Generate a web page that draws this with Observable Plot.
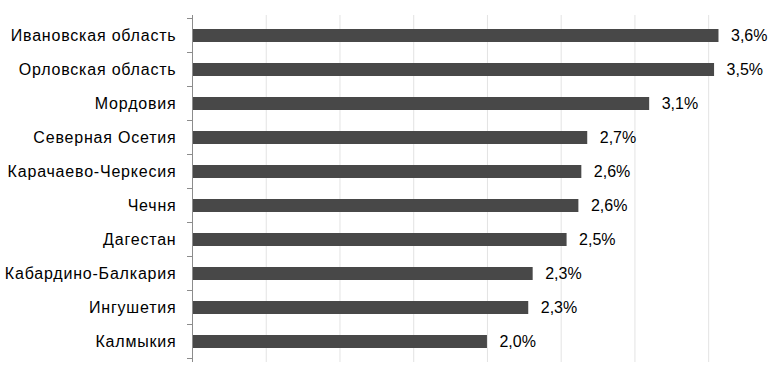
<!DOCTYPE html>
<html><head><meta charset="utf-8">
<script src="https://cdn.jsdelivr.net/npm/d3@7"></script>
<script src="https://cdn.jsdelivr.net/npm/@observablehq/plot@0.6"></script>
<style>body{margin:0;background:#fff} svg{display:block} .ylab text{letter-spacing:0.8px}</style>
</head><body><div id="chart"></div>
<script>
const regions = ["Ивановская область","Орловская область","Мордовия","Северная Осетия","Карачаево-Черкесия","Чечня","Дагестан","Кабардино-Балкария","Ингушетия","Калмыкия"];
const values = [3.57, 3.54, 3.10, 2.68, 2.64, 2.62, 2.54, 2.31, 2.28, 2.00];
const labels = ["3,6%","3,5%","3,1%","2,7%","2,6%","2,6%","2,5%","2,3%","2,3%","2,0%"];
const gridTicks = [0.5, 1, 1.5, 2, 2.5, 3, 3.5];
const data = regions.map((r, i) => ({region: r, value: values[i], label: labels[i]}));

const plot = Plot.plot({
  width: 776, height: 376,
  marginLeft: 192, marginRight: 0, marginTop: 15, marginBottom: 14,
  style: {fontFamily: "'Liberation Sans', Arial, sans-serif", fontSize: "16px", color: "#000", background: "#fff"},
  x: {domain: [0, 3.96], axis: null},
  y: {domain: regions, paddingInner: 0.62, paddingOuter: 0.31, label: null, axis: null},
  marks: [
    Plot.ruleX(gridTicks, {stroke: "#e3e3e3", strokeWidth: 1}),
    Plot.barX(data, {x: "value", y: "region", fill: "#484848"}),
    Plot.ruleX([0], {stroke: "#8c8c8c", strokeWidth: 1}),
    Plot.axisY({tickSize: 0, tickPadding: 16, fontSize: 16, label: null, fill: "#000", className: "ylab"}),
    Plot.text(data, {x: "value", y: "region", text: "label", dx: 12, textAnchor: "start", fill: "#000", fontSize: 16})
  ]
});

// category-boundary tick marks (Excel style), positioned from Plot's y scale
const ys = plot.scale("y");
const x0 = plot.scale("x").apply(0);
const step = ys.step, bw = ys.bandwidth;
const bounds = regions.map(r => ys.apply(r) - (step - bw) / 2);
bounds.push(ys.apply(regions[regions.length - 1]) + bw + (step - bw) / 2);
d3.select(plot).append("g")
  .attr("stroke", "#8c8c8c")
  .selectAll("line").data(bounds).join("line")
  .attr("x1", x0 - 5).attr("x2", x0)
  .attr("y1", d => d).attr("y2", d => d);

document.getElementById("chart").appendChild(plot);
</script>
</body></html>
